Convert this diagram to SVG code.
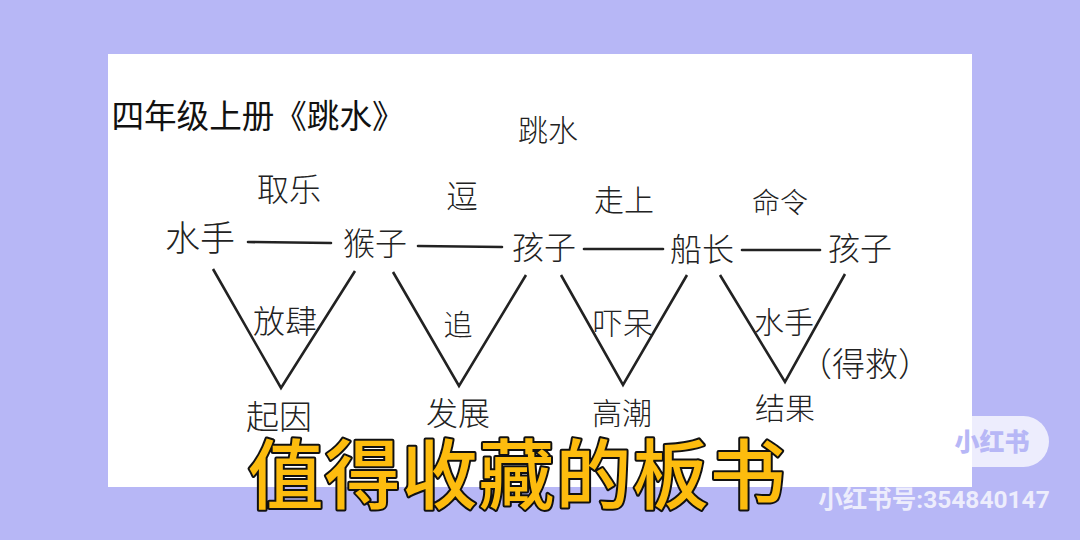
<svg xmlns="http://www.w3.org/2000/svg" width="1080" height="540" viewBox="0 0 1080 540">
<style>
text{font-family:"Noto Sans CJK SC","Noto Sans",sans-serif;fill:#222;text-anchor:middle}
.t{font-size:32px;font-weight:300}
.s{font-size:29px;font-weight:300}
.c line{stroke:#222;stroke-width:2.6;stroke-linecap:round}
.c polyline{fill:none;stroke:#222;stroke-width:2.6;stroke-linejoin:miter}
</style>
<rect width="1080" height="540" fill="#b7b7f6"/>
<rect x="108" y="54" width="864" height="433" fill="#fff"/>
<g id="heading"><text x="258" y="128" font-size="32.6" style="fill:#111;font-weight:400">四年级上册《跳水》</text></g>
<g id="title"><text x="548" y="141" class="s" style="font-size:30px">跳水</text></g>
<g class="c" id="connectors">
<line x1="248" y1="242" x2="331" y2="243"/><line x1="418" y1="246" x2="502" y2="247"/>
<line x1="584" y1="249" x2="663" y2="249"/><line x1="742" y1="250" x2="820" y2="250"/>
<polyline points="213,269 281,388 355,271"/><polyline points="393,272 459,386 526,275"/>
<polyline points="561,275 623,385 687,275"/><polyline points="720,275 785,382 845,274"/>
</g>
<g id="n1"><text x="200" y="251" class="t" style="font-size:35px">水手</text></g>
<g id="n2"><text x="375" y="255" class="t">猴子</text></g>
<g id="n3"><text x="544" y="259" class="t">孩子</text></g>
<g id="n4"><text x="702" y="261" class="t">船长</text></g>
<g id="n5"><text x="860" y="260" class="t">孩子</text></g>
<g id="e1"><text x="289" y="201" class="t">取乐</text></g>
<g id="e2"><text x="462" y="208" class="t">逗</text></g>
<g id="e3"><text x="624" y="211" class="s" style="font-size:30px">走上</text></g>
<g id="e4"><text x="780" y="213" class="s" style="font-size:28px">命令</text></g>
<g id="v1"><text x="285" y="333" class="t">放肆</text></g>
<g id="v2"><text x="458" y="336" class="s">追</text></g>
<g id="v3"><text x="623" y="334" class="s" style="font-size:30px">吓呆</text></g>
<g id="v4"><text x="784" y="333" class="s" style="font-size:30px">水手</text></g>
<g id="note"><text x="865" y="376" class="s" style="font-size:33px">（得救）</text></g>
<g id="b1"><text x="279" y="429" class="t" style="font-size:33px">起因</text></g>
<g id="b2"><text x="458" y="425" class="t">发展</text></g>
<g id="b3"><text x="622" y="424" class="s" style="font-size:30px">高潮</text></g>
<g id="b4"><text x="785" y="419" class="s" style="font-size:30px">结果</text></g>
<g id="caption"><text x="517" y="503" font-size="76" style="font-weight:500;letter-spacing:1px;fill:#fdbc0e;stroke:#111;stroke-width:4;paint-order:stroke;stroke-linejoin:round">值得收藏的板书</text></g>
<g id="watermark">
<rect x="935" y="416" width="114" height="51" rx="25.5" fill="#fff" fill-opacity=".75"/>
<text x="992" y="451" font-size="25" style="font-weight:900;fill:#b7b7f6">小红书</text>
<text x="934" y="508" font-size="24.5" style="font-weight:700;fill:#fff;fill-opacity:.75;font-family:'Roboto','Noto Sans CJK SC',sans-serif">小红书号:354840147</text>
</g>
</svg>
